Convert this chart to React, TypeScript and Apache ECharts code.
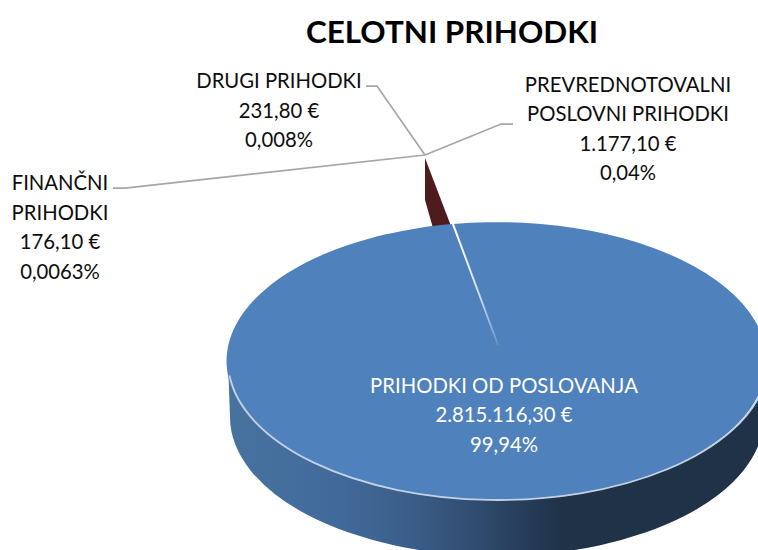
import React, { useEffect, useRef } from "react";
import * as echarts from "echarts";

const chartTitle = "CELOTNI PRIHODKI";
const names = ["DRUGI PRIHODKI", "FINANČNI\nPRIHODKI", "PREVREDNOTOVALNI\nPOSLOVNI PRIHODKI", "PRIHODKI OD POSLOVANJA"];
const values = [231.8, 176.1, 1177.1, 2815116.3];
const amountLabels = ["231,80 €", "176,10 €", "1.177,10 €", "2.815.116,30 €"];
const shareLabels = ["0,008%", "0,0063%", "0,04%", "99,94%"];

const FONT = "Lato, 'Open Sans', sans-serif";
const LABEL_SIZE = 20.3;
const LINE_H = 29.5;
const CX = 498;
const CY = 361;
const RX = 270;
const RY = 139;
const SIDE_CX = 497;
const SIDE_RX = 267;
const DEPTH = 56;
const SEAM_T = (-99.6 * Math.PI) / 180;
const SEAM_END: [number, number] = [498, 345];
const LINE_COLOR = "#a6a6a6";
const TEXT_COLOR = "#0d0d0d";

const labelPos: [number, number, string][] = [
  [279, 109.5, TEXT_COLOR],
  [60, 226.5, TEXT_COLOR],
  [628, 128, TEXT_COLOR],
  [504, 414, "#ffffff"],
];
const leaderPts: number[][][] = [
  [[366, 86], [377, 86], [425, 155]],
  [[113, 188], [125, 188], [425, 155]],
  [[513, 124], [501, 124], [425, 155]],
];

const pt = (t: number, dy = 0): string =>
  `${(CX + RX * Math.cos(t)).toFixed(2)} ${(CY + dy + RY * Math.sin(t)).toFixed(2)}`;
const rad = (d: number) => (d * Math.PI) / 180;

function renderItem(params: any, api: any) {
  const i = params.dataIndex;
  const value = api.value(0);
  const total = values.reduce((a, b) => a + b, 0);
  const text = `${names[i]}\n${amountLabels[i]}\n${shareLabels[i]}`;
  const children: any[] = [];
  if (i === 3) {
    const sideFill = new echarts.graphic.LinearGradient(
      227, 0, 767, 0,
      [
        { offset: 0, color: "#47739f" },
        { offset: 0.2, color: "#416a9b" },
        { offset: 0.33, color: "#3b5f8a" },
        { offset: 0.44, color: "#324f74" },
        { offset: 0.52, color: "#2a4260" },
        { offset: 0.62, color: "#1f3248" },
        { offset: 1, color: "#1f3248" },
      ],
      true,
    );
    const sideL = SIDE_CX - SIDE_RX;
    const sideR = SIDE_CX + SIDE_RX;
    children.push({
      type: "path",
      shape: {
        pathData: `M ${pt(Math.PI)} A ${RX} ${RY} 0 0 0 ${pt(0)} L ${sideR} ${CY + DEPTH} A ${SIDE_RX} ${RY} 0 0 1 ${sideL} ${CY + DEPTH} Z`,
      },
      style: { fill: sideFill },
    });
    const t1 = SEAM_T + (2 * Math.PI * value) / total;
    children.push({
      type: "path",
      shape: {
        pathData: `M ${SEAM_END[0]} ${SEAM_END[1]} L ${pt(SEAM_T)} A ${RX} ${RY} 0 1 1 ${pt(t1)} Z`,
      },
      style: { fill: "#4f81bd" },
    });
    children.push({
      type: "path",
      shape: { pathData: `M ${pt(rad(174))} A ${RX} ${RY} 0 0 0 ${pt(rad(10))}` },
      style: { fill: "none", stroke: "#c3d1e2", lineWidth: 1.8 },
    });
    const rim = pt(SEAM_T).split(" ").map(Number);
    children.push({
      type: "line",
      shape: { x1: rim[0], y1: rim[1], x2: SEAM_END[0], y2: SEAM_END[1] },
      style: {
        lineWidth: 2,
        stroke: new echarts.graphic.LinearGradient(
          rim[0], rim[1], SEAM_END[0], SEAM_END[1],
          [
            { offset: 0, color: "rgba(255,255,255,0.95)" },
            { offset: 0.6, color: "rgba(255,255,255,0.6)" },
            { offset: 1, color: "rgba(255,255,255,0.12)" },
          ],
          true,
        ),
      },
    });
  } else {
    if (value === Math.max(...values.slice(0, 3))) {
      children.push({
        type: "polygon",
        shape: { points: [[425, 158], [451, 226], [433, 228], [425, 200]] },
        style: { fill: "#4f1c1e" },
      });
    }
    children.push({
      type: "polyline",
      shape: { points: leaderPts[i] },
      style: { fill: "none", stroke: LINE_COLOR, lineWidth: 1.75 },
    });
  }
  children.push({
    type: "text",
    style: {
      text,
      x: labelPos[i][0],
      y: labelPos[i][1],
      fill: labelPos[i][2],
      fontSize: LABEL_SIZE,
      fontFamily: FONT,
      lineHeight: LINE_H,
      align: "center",
      verticalAlign: "middle",
    },
  });
  return { type: "group", children };
}

export default function App() {
  const ref = useRef<HTMLDivElement>(null);
  useEffect(() => {
    document.body.style.margin = "0";
    document.body.style.overflow = "hidden";
    const chart = echarts.init(ref.current!, null, { renderer: "svg" });
    chart.setOption({
      animation: false,
      backgroundColor: "#ffffff",
      title: {
        text: chartTitle,
        left: 447,
        top: 10,
        textAlign: "center",
        textStyle: { fontFamily: FONT, fontSize: 31.4, fontWeight: "bold", color: "#000000" },
      },
      series: [
        {
          type: "custom",
          coordinateSystem: "none",
          renderItem,
          data: values.map((v) => [v]),
          silent: true,
        },
      ],
    });
    return () => chart.dispose();
  }, []);
  return <div ref={ref} style={{ width: 758, height: 550 }} />;
}
